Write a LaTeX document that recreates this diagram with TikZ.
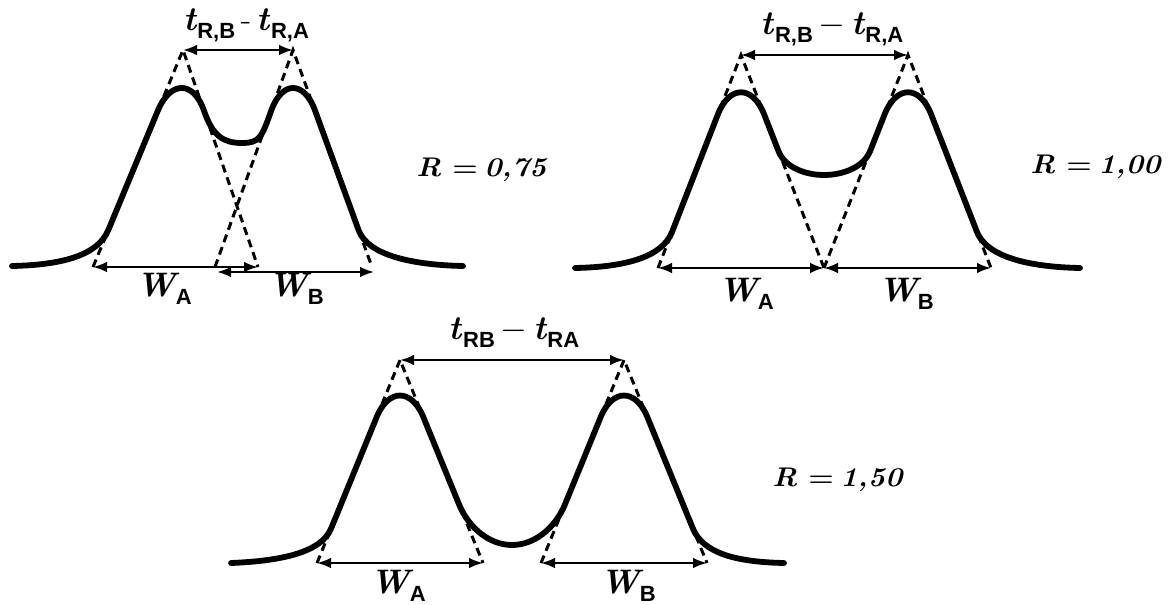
\documentclass[tikz,border=0pt]{standalone}
\usepackage{fontspec}
\newfontfamily\subsf{Liberation Sans}
\usetikzlibrary{arrows.meta}
\tikzset{
  peak/.style={line width=2.9pt, line join=round, line cap=round},
  tangent/.style={line width=1.5pt, dash pattern=on 4pt off 2.6pt},
  dim/.style={line width=1.2pt, {Latex[length=7pt,width=5.4pt]}-{Latex[length=7pt,width=5.4pt]}},
  lab/.style={inner sep=0pt, font=\fontsize{17}{17}\selectfont},
  rlab/.style={inner sep=0pt, anchor=west},
}
\newcommand{\tsub}[1]{{\bfseries\itshape t}\kern0.6pt\raisebox{-4pt}{\subsf\bfseries\fontsize{11}{11}\selectfont #1}}
\newcommand{\wsub}[1]{{\bfseries\itshape W}\raisebox{-4pt}{\subsf\bfseries\fontsize{11}{11}\selectfont #1}}
\newcommand{\rval}[1]{\scalebox{1.08}[1]{\fontsize{13.5}{13.5}\selectfont\bfseries\itshape R\kern5pt{\upshape=}\kern3pt#1}}
\begin{document}
\begin{tikzpicture}[x=0.5pt,y=-0.5pt]
\useasboundingbox (0,0) rectangle (1170,604);
% ---------- panel 1 : R = 0,75
\coordinate (a1) at (183,50); \coordinate (a1l) at (93,267); \coordinate (a1r) at (258,267);
\coordinate (b1) at (293,50); \coordinate (b1l) at (215,267); \coordinate (b1r) at (372,267);
\coordinate (wb1l) at (217,272); \coordinate (wb1r) at (374,272);
\draw[tangent] (a1l) -- (a1) -- (a1r);
\draw[tangent] (b1l) -- (b1) -- (b1r);
\draw[dim] (a1) -- (b1);
\draw[dim] (a1l) -- (a1r);
\draw[dim] (wb1l) -- (wb1r);
\draw[peak] (12,266) .. controls (60,265) and (97.5,256.15) .. (108.3,230.11) -- (157.8,110.76)
  .. controls (170.4,80.38) and (193.5,80.38) .. (204,110.76)
  .. controls (213,136.8) and (224,143) .. (242,143)
  .. controls (260,143) and (261.8,136.8) .. (271.16,110.76)
  .. controls (282.08,80.38) and (304.06,80.38) .. (315.12,110.76) -- (358.57,230.11)
  .. controls (368.05,256.15) and (415,265) .. (463,266);
\node[lab] (t1) at (246,25) {\tsub{R,B}\,-\,\tsub{R,A}};
\node[rlab] (r1) at (416,170) {\rval{0,75}};
\node[lab] (wa1) at (164,289) {\wsub{A}};
\node[lab] (wb1) at (296,289) {\wsub{B}};
% ---------- panel 2 : R = 1,00
\coordinate (a2) at (741,55); \coordinate (a2l) at (658,268); \coordinate (m2) at (824,268);
\coordinate (b2) at (908,55); \coordinate (b2r) at (991,268);
\draw[tangent] (a2l) -- (a2) -- (m2);
\draw[tangent] (m2) -- (b2) -- (b2r);
\draw[dim] (a2) -- (b2);
\draw[dim] (a2l) -- (m2);
\draw[dim] (m2) -- (b2r);
\draw[peak] (575,268) .. controls (625,267) and (662.15,257.35) .. (672.11,231.79) -- (717.76,114.65)
  .. controls (729.38,84.82) and (752.62,84.82) .. (764.24,114.65) -- (778.35,150.85)
  .. controls (784.99,167.89) and (806,175) .. (824,175)
  .. controls (842,175) and (863.48,167.89) .. (870.2,150.85) -- (884.48,114.65)
  .. controls (896.24,84.82) and (919.76,84.82) .. (931.24,114.65) -- (976.89,231.79)
  .. controls (986.85,257.35) and (1030,267) .. (1080,268);
\node[lab] (t2) at (832,29) {\tsub{R,B}\,$-$\,\tsub{R,A}};
\node[rlab] (r2) at (1030,167) {\rval{1,00}};
\node[lab] (wa2) at (746,294) {\wsub{A}};
\node[lab] (wb2) at (906,294) {\wsub{B}};
% ---------- panel 3 : R = 1,50
\coordinate (a3) at (400,360); \coordinate (a3l) at (317,563); \coordinate (a3r) at (483,563);
\coordinate (b3) at (624,360); \coordinate (b3l) at (541,563); \coordinate (b3r) at (707,563);
\draw[tangent] (a3l) -- (a3) -- (a3r);
\draw[tangent] (b3l) -- (b3) -- (b3r);
\draw[dim] (a3) -- (b3);
\draw[dim] (a3l) -- (a3r);
\draw[dim] (b3l) -- (b3r);
\draw[peak] (231,563) .. controls (280,561) and (321.15,552.85) .. (331.11,528.49) -- (376.76,416.84)
  .. controls (388.38,388.42) and (411.62,388.42) .. (423.24,416.84) -- (458.93,504.13)
  .. controls (468.89,528.49) and (490,545) .. (512,545)
  .. controls (534,545) and (555.11,528.49) .. (565.07,504.13) -- (600.76,416.84)
  .. controls (612.38,388.42) and (635.62,388.42) .. (647.24,416.84) -- (692.89,528.49)
  .. controls (702.85,552.85) and (735,562) .. (784,563);
\node[lab] (t3) at (514,333) {\tsub{RB}\,$-$\,\tsub{RA}};
\node[rlab] (r3) at (772,480) {\rval{1,50}};
\node[lab] (wa3) at (398,586) {\wsub{A}};
\node[lab] (wb3) at (628,586) {\wsub{B}};
\end{tikzpicture}
\end{document}
